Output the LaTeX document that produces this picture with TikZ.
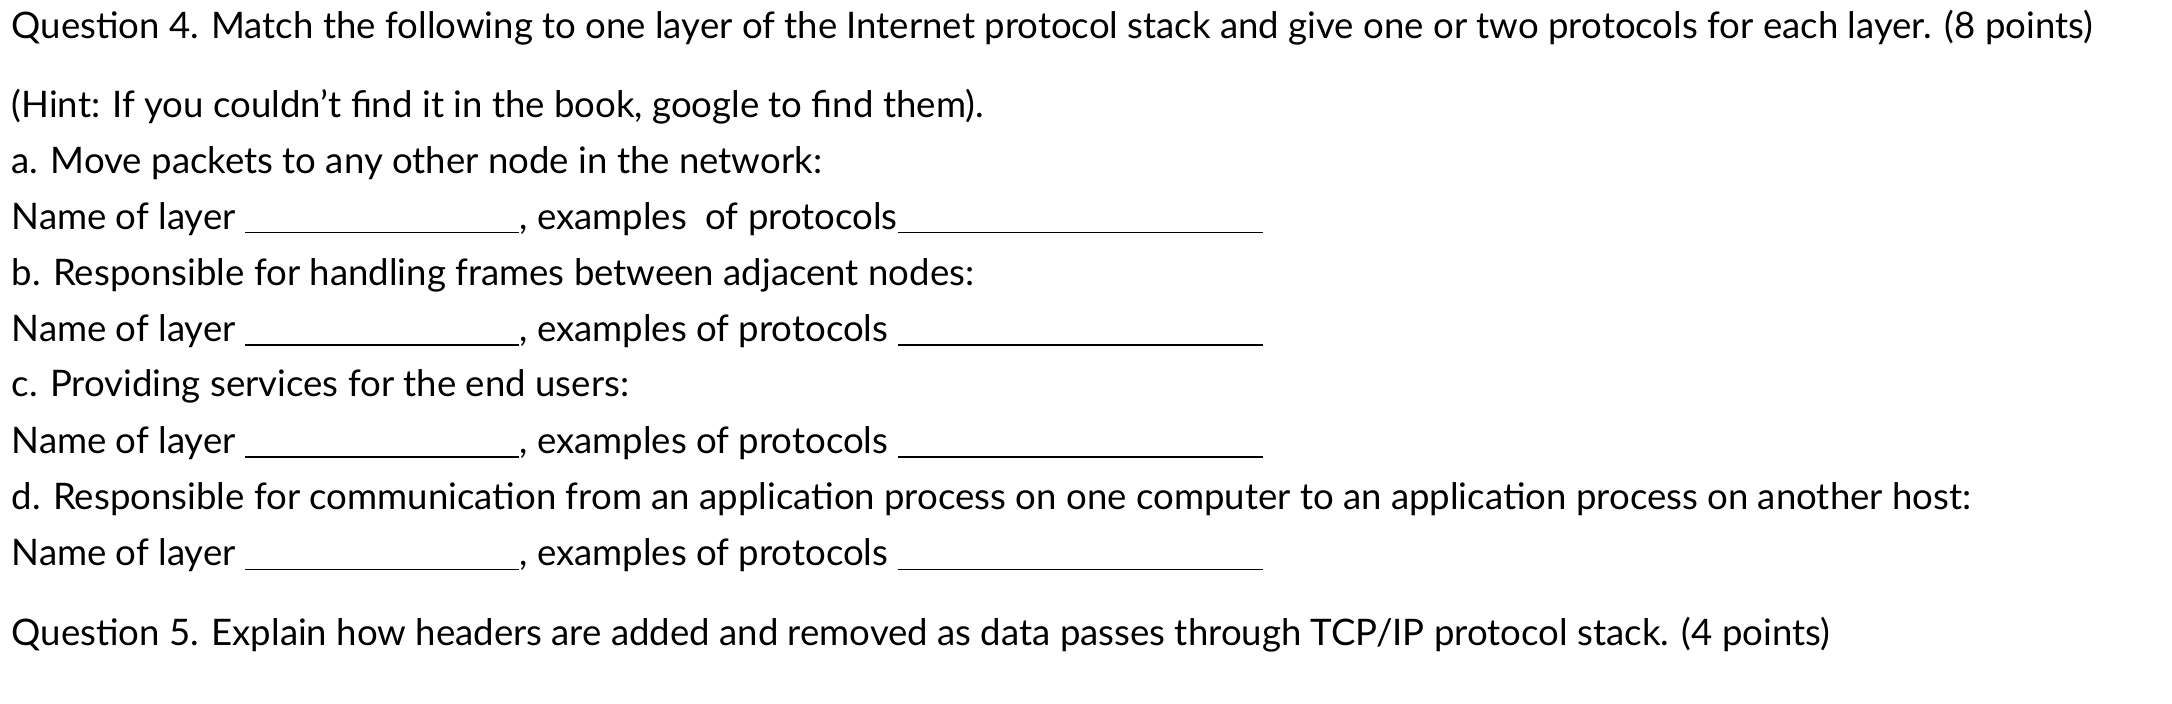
\documentclass[tikz,border=0pt]{standalone}
\usepackage{fontspec}
\setmainfont{Lato}
\newcommand{\blankA}{\rule[-1.5pt]{99pt}{0.5pt}}
\newcommand{\blankB}{\rule[-1.5pt]{132pt}{0.5pt}}
\begin{document}
\begin{tikzpicture}[x=0.5pt, y=-0.5pt,
		line/.style = {
			anchor = west,
			inner sep = 0pt,
			font = \fontsize{13.2pt}{16pt}\selectfont
		}]
	\useasboundingbox (0, 0) rectangle (1568, 508);
	\node[line] (qfour) at (8, 20) {Question 4. Match the following to one layer of the Internet protocol stack and give one or two protocols for each layer. (8 points)};
	\node[line] (hint) at (8, 77) {(Hint: If you couldn't find it in the book, google to find them).};
	\node[line] (qa) at (8, 118) {a. Move packets to any other node in the network:};
	\node[line] (na) at (8, 158) {Name of layer \blankA, examples\ \ of protocols\blankB};
	\node[line] (qb) at (8, 199) {b. Responsible for handling frames between adjacent nodes:};
	\node[line] (nb) at (8, 239) {Name of layer \blankA, examples of protocols \blankB};
	\node[line] (qc) at (8, 279) {c. Providing services for the end users:};
	\node[line] (nc) at (8, 320) {Name of layer \blankA, examples of protocols \blankB};
	\node[line] (qd) at (8, 360) {d. Responsible for communication from an application process on one computer to an application process on another host:};
	\node[line] (nd) at (8, 401) {Name of layer \blankA, examples of protocols \blankB};
	\node[line] (qfive) at (8, 458) {Question 5. Explain how headers are added and removed as data passes through TCP/IP protocol stack. (4 points)};
\end{tikzpicture}
\end{document}
